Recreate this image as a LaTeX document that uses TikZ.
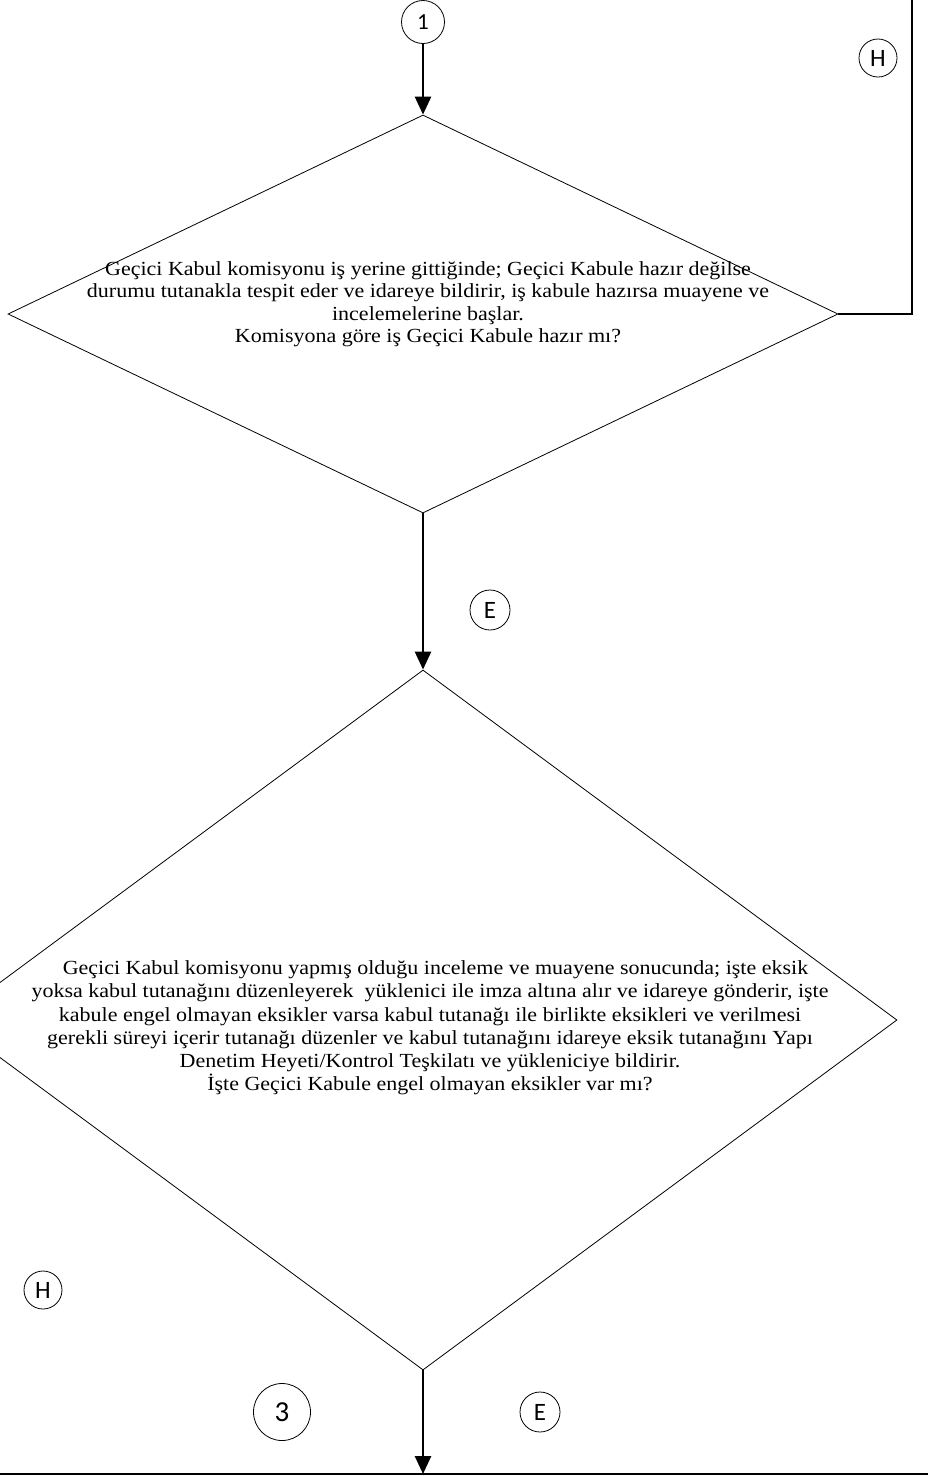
\documentclass[tikz,border=0pt]{standalone}
\usepackage{fontspec}
\setmainfont{Liberation Serif}
\newfontfamily\descfont[FakeStretch=1.1]{Liberation Serif}
\newfontfamily\connfont{Carlito}
\usepackage{xcolor}
\usetikzlibrary{shapes.geometric, arrows.meta, positioning, calc}
\definecolor{flowblack}{RGB}{0, 0, 0}
\tikzstyle{decision} = [diamond, draw=flowblack, line width=0.8pt, inner sep=0pt]
\tikzstyle{desc} = [align=center, font=\descfont\fontsize{20}{22.5}\selectfont, inner sep=0pt]
\tikzstyle{connector} = [circle, draw=flowblack, line width=0.8pt, inner sep=0pt, font=\connfont\fontsize{25}{25}\selectfont]
\tikzstyle{arrow} = [-{Triangle[length=18pt, width=16pt]}, line width=2.6pt]
\tikzstyle{link} = [line width=2.6pt]

\begin{document}
\begin{tikzpicture}[x=1pt, y=-1pt]
    \useasboundingbox (0, 0) rectangle (928, 1476);

    % Connectors
    \node[connector, minimum size=43pt, font=\connfont\fontsize{23}{23}\selectfont] (one) at (423, 22) {1};
    \node[connector, minimum size=38pt] (hayir1) at (878, 58) {H};
    \node[connector, minimum size=40pt] (evet1) at (490, 610) {E};
    \node[connector, minimum size=38pt] (hayir2) at (43, 1290) {H};
    \node[connector, minimum size=57pt, font=\connfont\fontsize{29}{29}\selectfont] (three) at (282, 1412) {3};
    \node[connector, minimum size=40pt] (evet2) at (540, 1412) {E};

    % Decision: ready for acceptance
    \node[decision, minimum width=830pt, minimum height=398pt] (ready) at (423, 314) {};
    \node[desc] (readytxt) at (428, 304) {Geçici Kabul komisyonu iş yerine gittiğinde; Geçici Kabule hazır değilse\\
        durumu tutanakla tespit eder ve idareye bildirir, iş kabule hazırsa muayene ve\\
        incelemelerine başlar.\\
        Komisyona göre iş Geçici Kabule hazır mı?};

    % Decision: missing items
    \node[decision, minimum width=948pt, minimum height=700pt] (missing) at (423, 1020) {};
    \node[desc, font=\descfont\fontsize{20}{23.2}\selectfont] (missingtxt) at (430, 1028) {\ \ Geçici Kabul komisyonu yapmış olduğu inceleme ve muayene sonucunda; işte eksik\\
        yoksa kabul tutanağını düzenleyerek \ yüklenici ile imza altına alır ve idareye gönderir, işte\\
        kabule engel olmayan eksikler varsa kabul tutanağı ile birlikte eksikleri ve verilmesi\\
        gerekli süreyi içerir tutanağı düzenler ve kabul tutanağını idareye eksik tutanağını Yapı\\
        Denetim Heyeti/Kontrol Teşkilatı ve yükleniciye bildirir.\\
        İşte Geçici Kabule engel olmayan eksikler var mı?};

    % Loose ends
    \coordinate (back) at (912, 0);
    \coordinate (bottom) at (423, 1474);

    % Arrows
    \draw[arrow] (one) -- (ready.north);
    \draw[arrow] (ready.south) -- (missing.north);
    \draw[arrow] (missing.south) -- (bottom);
    \draw[link] (ready.east) -| (back);
    \draw[link, line width=2pt] (0, 1474) -- (928, 1474);
\end{tikzpicture}
\end{document}
